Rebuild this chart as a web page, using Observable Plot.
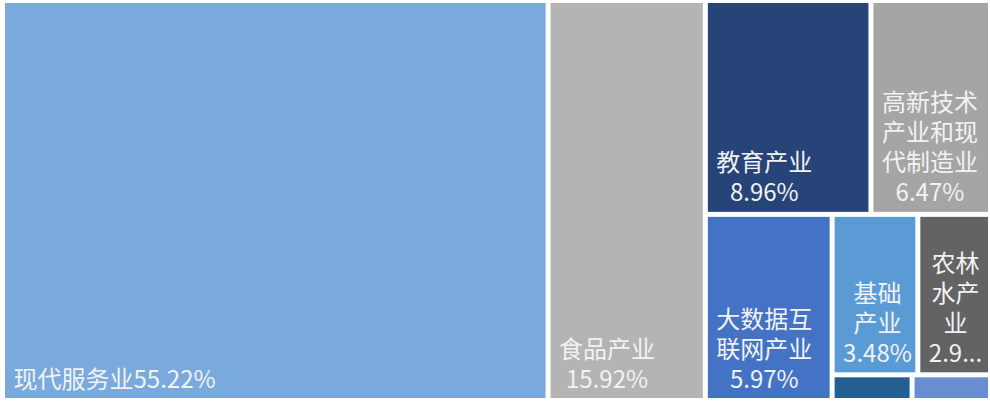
<!DOCTYPE html>
<html>
<head>
<meta charset="utf-8">
<script src="https://cdn.jsdelivr.net/npm/d3@7"></script>
<script src="https://cdn.jsdelivr.net/npm/@observablehq/plot@0.6"></script>
<style>
  html, body { margin: 0; padding: 0; background: #ffffff; }
  #chart { width: 990px; height: 401px; }
</style>
</head>
<body>
<div id="chart"></div>
<script>
// ---- data ----
const names = ["现代服务业", "食品产业", "教育产业", "高新技术产业和现代制造业", "大数据互联网产业", "基础产业", "农林水产业", "其他产业", "文化旅游产业"];
const values = [55.22, 15.92, 8.96, 6.47, 5.97, 3.48, 2.95, 0.52, 0.51];
// nesting of the tiles (structure of the treemap rows/columns)
const groups = ["", "", "A/top", "A/top", "A/B", "A/B/C/r1", "A/B/C/r1", "A/B/C/r2", "A/B/C/r2"];
const colors = ["#7aaadd", "#b4b4b4", "#264478", "#a5a5a5", "#4472c4", "#5b9bd5", "#636363", "#255e91", "#698ed0"];

// ---- layout ----
const WIDTH = 990, HEIGHT = 401;
const mL = 5, mR = 2, mT = 3, mB = 3;
const W = WIDTH - mL - mR, H = HEIGHT - mT - mB;
const FONT_SIZE = 24, LINE_H = 1.25;
const FONT_FAMILY = '"Noto Sans CJK SC", "Noto Sans", sans-serif';

function buildTree() {
  const root = {name: "root", children: []};
  names.forEach((n, i) => {
    let node = root;
    if (groups[i]) for (const g of groups[i].split("/")) {
      let c = node.children.find(d => d.name === g && d.children);
      if (!c) { c = {name: g, children: []}; node.children.push(c); }
      node = c;
    }
    node.children.push({name: n, value: values[i], index: i});
  });
  return root;
}

const root = d3.hierarchy(buildTree()).sum(d => d.value || 0);
d3.treemap().tile(d3.treemapSliceDice).size([W, H]).paddingInner(5).round(false)(root);
const leaves = root.leaves().map(l => ({
  name: l.data.name, value: l.data.value,
  x0: l.x0, x1: l.x1, y0: l.y0, y1: l.y1
}));

// ---- label wrapping (Excel-like) ----
const ctx = document.createElement("canvas").getContext("2d");
ctx.font = `${FONT_SIZE}px ${FONT_FAMILY}`;
const tw = s => ctx.measureText(s).width;
function tokens(s) {
  const out = [];
  let buf = "";
  for (const ch of s) {
    if (/[\u3000-\u9fff\uff00-\uffef]/.test(ch)) { if (buf) { out.push(buf); buf = ""; } out.push(ch); }
    else buf += ch;
  }
  if (buf) out.push(buf);
  return out;
}
function ellipsize(s, maxW) {
  if (tw(s) <= maxW) return s;
  let t = s;
  while (t.length > 0 && tw(t + "...") > maxW) t = t.slice(0, -1);
  return t + "...";
}
const padX = 5, padBottom = 11, padTop = 4;
const labels = [];
for (const d of leaves) {
  const w = d.x1 - d.x0, h = d.y1 - d.y0;
  const wrapW = w - 2 * padX;
  const maxLines = Math.floor((h - padTop - padBottom) / (FONT_SIZE * LINE_H));
  if (maxLines < 1 || wrapW <= 0) continue;
  const text = d.name + d.value.toFixed(2) + "%";
  let lines = [], cur = "";
  for (const t of tokens(text)) {
    if (cur && tw(cur + t) > wrapW) { lines.push(cur); cur = t; }
    else cur += t;
  }
  if (cur) lines.push(cur);
  lines = lines.map(l => ellipsize(l, wrapW));
  if (lines.length > maxLines) {
    lines = lines.slice(0, maxLines);
    lines[maxLines - 1] = ellipsize(lines[maxLines - 1] + "…", wrapW);
  }
  const blockW = d3.max(lines, tw);
  labels.push({x: d.x0 + 8 + blockW / 2, y: d.y1 - padBottom, text: lines.join("\n")});
}

const chart = Plot.plot({
  width: WIDTH, height: HEIGHT,
  marginLeft: mL, marginRight: mR, marginTop: mT, marginBottom: mB,
  style: {background: "#ffffff", fontFamily: FONT_FAMILY},
  x: {domain: [0, W], axis: null},
  y: {domain: [0, H], reverse: true, axis: null},
  color: {domain: names, range: colors},
  marks: [
    Plot.rect(leaves, {x1: "x0", x2: "x1", y1: "y0", y2: "y1", fill: "name"}),
    Plot.text(labels, {x: "x", y: "y", text: "text", fill: "#f2f2f2", fontSize: FONT_SIZE,
      fontFamily: FONT_FAMILY, textAnchor: "middle", lineAnchor: "bottom", lineHeight: LINE_H})
  ]
});
document.getElementById("chart").appendChild(chart);
</script>
</body>
</html>
